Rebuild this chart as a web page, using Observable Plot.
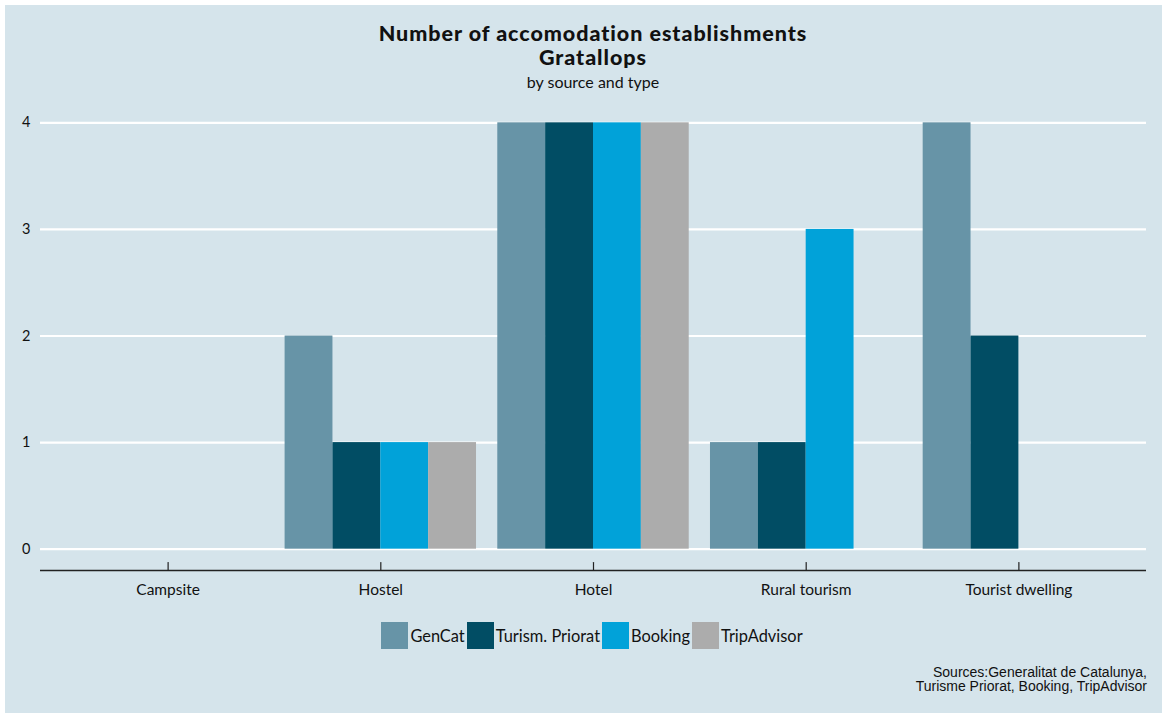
<!DOCTYPE html>
<html>
<head>
<meta charset="utf-8">
<script src="https://cdn.jsdelivr.net/npm/d3@7"></script>
<script src="https://cdn.jsdelivr.net/npm/@observablehq/plot@0.6"></script>
<style>
  html, body { margin: 0; padding: 0; background: #ffffff; }
  #page { position: relative; width: 1162px; height: 713px; overflow: hidden; font-family: Lato, "Open Sans", sans-serif; color: #111; }
  #panel { position: absolute; left: 5px; top: 5px; width: 1157px; height: 708px; background: #d5e4eb; }
  .layer { position: absolute; left: 0; top: 0; }
  .ttl { position: absolute; left: 40px; width: 1106px; text-align: center; font-weight: 900; font-size: 21.5px; letter-spacing: 0.95px; line-height: 24px; }
  #sub { position: absolute; left: 40px; width: 1106px; text-align: center; font-size: 16px; top: 72px; }
  #legend { position: absolute; top: 622px; left: 40px; width: 1106px; display: flex; justify-content: center; align-items: center; font-size: 16.4px; }
  #legend .sw { width: 27px; height: 27px; margin-right: 2px; }
  #legend .lb { margin-right: 2px; }
  #caption { position: absolute; right: 15px; top: 665px; text-align: right; font-family: "Liberation Sans", Arial, sans-serif; font-size: 14px; line-height: 14px; color: #111; }
</style>
</head>
<body>
<div id="page">
  <div id="panel"></div>
  <div id="grid" class="layer"></div>
  <div id="chart" class="layer"></div>
  <div class="ttl" style="top:21px">Number of accomodation establishments</div>
  <div class="ttl" style="top:45px">Gratallops</div>
  <div id="sub">by source and type</div>
  <div id="legend"></div>
  <div id="caption">Sources:Generalitat de Catalunya,<br>Turisme Priorat, Booking, TripAdvisor</div>
</div>
<script>
const categories = ["Campsite", "Hostel", "Hotel", "Rural tourism", "Tourist dwelling"];
const sources = ["GenCat", "Turism. Priorat", "Booking", "TripAdvisor"];
const sourceColors = ["#6794a7", "#014d64", "#01a2d9", "#acacac"];
const genCat = [0, 2, 4, 1, 4];
const turismPriorat = [0, 1, 4, 1, 2];
const booking = [0, 1, 4, 3, 0];
const tripAdvisor = [0, 1, 4, 0, 0];
const yTicks = [0, 1, 2, 3, 4];
const yDomain = [-0.2, 4.2];

const seriesValues = [genCat, turismPriorat, booking, tripAdvisor];
const data = [];
categories.forEach((c, i) => {
  sources.forEach((s, j) => {
    data.push({category: c, source: s, value: seriesValues[j][i]});
  });
});

const frame = {width: 1162, height: 713, marginTop: 101, marginBottom: 143, marginLeft: 40, marginRight: 16};
const font = "Lato, 'Open Sans', sans-serif";

// Background layer: horizontal grid, y axis labels and the x axis line
const grid = Plot.plot({
  ...frame,
  style: {background: "transparent", fontFamily: font, color: "#111"},
  y: {domain: yDomain, label: null},
  marks: [
    Plot.ruleY(yTicks, {stroke: "white", strokeWidth: 2.2}),
    Plot.ruleY([yDomain[0]], {stroke: "#222", strokeWidth: 1.4}),
    Plot.axisY({ticks: yTicks, tickFormat: d3.format("d"), tickSize: 0, tickPadding: 10, label: null, fontSize: 14.5})
  ]
});
document.getElementById("grid").appendChild(grid);

const tickShape = {
  draw(context, l) { context.moveTo(0, 0); context.lineTo(0, -l); }
};

// Foreground layer: dodged bars by category facet
const chart = Plot.plot({
  ...frame,
  style: {background: "transparent", fontFamily: font, color: "#111"},
  fx: {domain: categories, paddingInner: 0.1, paddingOuter: 0.15, round: false, label: null},
  x: {domain: sources, padding: 0, round: false, axis: null},
  y: {domain: yDomain, axis: null},
  color: {domain: sources, range: sourceColors},
  marks: [
    Plot.barY(data, {fx: "category", x: "source", y: "value", fill: "source"}),
    Plot.vector(categories, {fx: d => d, frameAnchor: "bottom", anchor: "start", length: 8, rotate: 0, shape: tickShape, stroke: "#222", strokeWidth: 1.2}),
    Plot.axisFx({anchor: "bottom", tickSize: 0, tickPadding: 13, label: null, fontSize: 15.5})
  ]
});
document.getElementById("chart").appendChild(chart);

const legend = document.getElementById("legend");
sources.forEach((s, i) => {
  const sw = document.createElement("div");
  sw.className = "sw";
  sw.style.background = sourceColors[i];
  const lb = document.createElement("span");
  lb.className = "lb";
  lb.textContent = s;
  legend.appendChild(sw);
  legend.appendChild(lb);
});
</script>
</body>
</html>
